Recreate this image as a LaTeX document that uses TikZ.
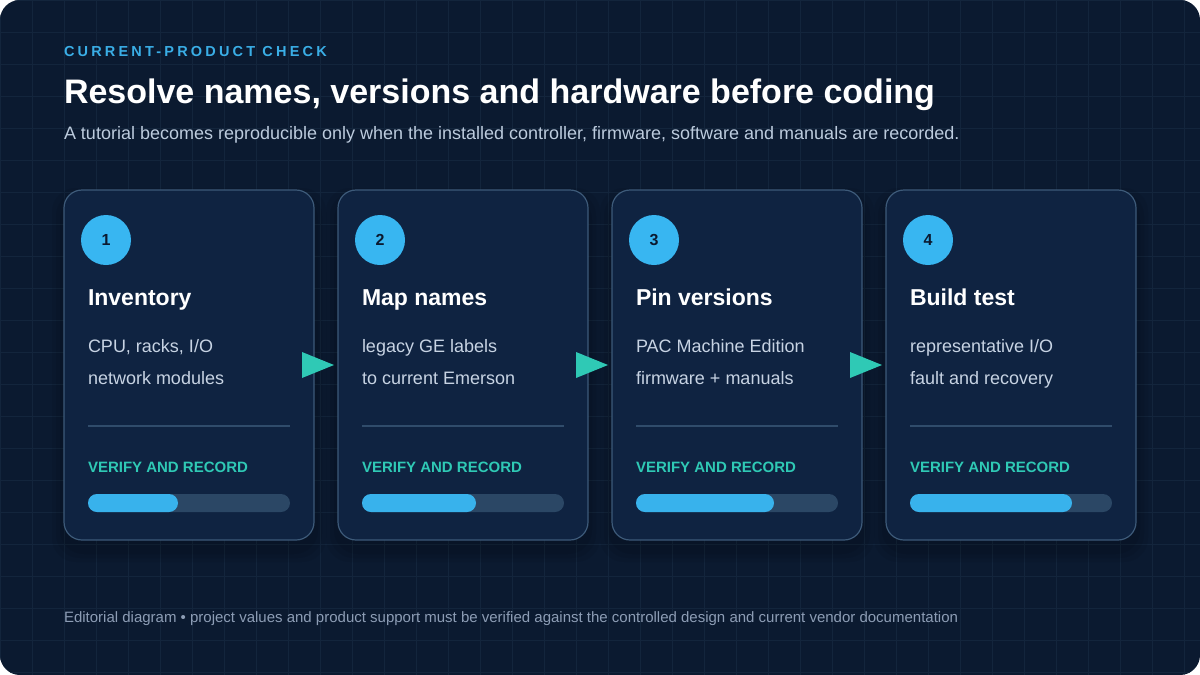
\documentclass[tikz,border=0pt]{standalone}
\usepackage{fontspec}
\setmainfont{Liberation Sans}
\usetikzlibrary{positioning,calc}
\definecolor{bgnavy}{HTML}{0B1A30}
\definecolor{gridline}{HTML}{13253C}
\definecolor{cardfill}{HTML}{0F2341}
\definecolor{cardedge}{HTML}{3D5A79}
\definecolor{badge}{HTML}{38B6F1}
\definecolor{bodytext}{HTML}{C7D3E3}
\definecolor{rulecol}{HTML}{304C6B}
\definecolor{checkteal}{HTML}{2FC9B5}
\definecolor{track}{HTML}{2B4765}
\definecolor{barfill}{HTML}{38B2EC}
\definecolor{kicker}{HTML}{3AAEE6}
\definecolor{subtext}{HTML}{BCCBDD}
\definecolor{foottext}{HTML}{8D9DB5}

\begin{document}
\begin{tikzpicture}[x=1pt, y=-1pt, every node/.style={inner sep=0pt, outer sep=0pt}]
  \tikzset{
      card/.style={draw=cardedge, line width=1.2pt, fill=cardfill, rounded corners=18pt, minimum width=250pt, minimum height=350pt},
      glow/.style={fill=black, opacity=0.06, rounded corners=24pt},
      numdot/.style={circle, fill=badge, minimum size=50pt, text=bgnavy, font=\fontsize{16}{19}\selectfont\bfseries},
      cardtitle/.style={anchor=base west, text=white, font=\fontsize{23}{27}\selectfont\bfseries},
      cardline/.style={anchor=base west, text=bodytext, font=\fontsize{18}{21}\selectfont},
      checklabel/.style={anchor=base west, text=checkteal, font=\fontsize{15}{18}\selectfont\bfseries},
      bartrack/.style={fill=track, rounded corners=9pt},
      barlevel/.style={fill=barfill, rounded corners=9pt}
  }
  \useasboundingbox (0,0) rectangle (1200,675);
  \fill[white] (0,0) rectangle (1200,675);
  \fill[bgnavy, rounded corners=20pt] (0,0) rectangle (1200,675);
  \begin{scope}
      \clip[rounded corners=20pt] (0,0) rectangle (1200,675);
      \draw[gridline, line width=0.8pt, step=32pt] (0,0) grid (1200,675);
  \end{scope}

  % header
  \node[anchor=base west, text=kicker, font=\fontsize{14.5}{17}\selectfont\bfseries\addfontfeatures{LetterSpace=22}] (kick) at (64,56) {CURRENT-PRODUCT CHECK};
  \node[anchor=base west, text=white, font=\fontsize{34}{40}\selectfont\bfseries] (head) at (64,103) {Resolve names, versions and hardware before coding};
  \node[anchor=base west, text=subtext, font=\fontsize{18}{21}\selectfont] (sub) at (64,139) {A tutorial becomes reproducible only when the installed controller, firmware, software and manuals are recorded.};

  % soft shadows under the cards
  \foreach \dx in {0,274,548,822}
    \foreach \g in {4,8,12}
      \fill[glow] (64+\dx-\g,190-\g+10) rectangle (314+\dx+\g,540+\g+10);

  % card 1
  \begin{scope}[xshift=0pt]
      \node[card] (c1) at (189,365) {};
      \node[numdot] (n1) at (106,240) {1};
      \node[cardtitle] (t1) at (88,305) {Inventory};
      \node[cardline] (a1) at (88,352) {CPU, racks, I/O};
      \node[cardline] (b1) at (88,384) {network modules};
      \draw[rulecol, line width=1.2pt] (88,426) -- (290,426);
      \node[checklabel] (v1) at (88,472) {VERIFY AND RECORD};
      \fill[bartrack] (88,494) rectangle (290,512);
      \fill[barlevel] (88,494) rectangle (178,512);
  \end{scope}

  % card 2
  \begin{scope}[xshift=274pt]
      \node[card] (c2) at (189,365) {};
      \node[numdot] (n2) at (106,240) {2};
      \node[cardtitle] (t2) at (88,305) {Map names};
      \node[cardline] (a2) at (88,352) {legacy GE labels};
      \node[cardline] (b2) at (88,384) {to current Emerson};
      \draw[rulecol, line width=1.2pt] (88,426) -- (290,426);
      \node[checklabel] (v2) at (88,472) {VERIFY AND RECORD};
      \fill[bartrack] (88,494) rectangle (290,512);
      \fill[barlevel] (88,494) rectangle (202,512);
  \end{scope}

  % card 3
  \begin{scope}[xshift=548pt]
      \node[card] (c3) at (189,365) {};
      \node[numdot] (n3) at (106,240) {3};
      \node[cardtitle] (t3) at (88,305) {Pin versions};
      \node[cardline] (a3) at (88,352) {PAC Machine Edition};
      \node[cardline] (b3) at (88,384) {firmware + manuals};
      \draw[rulecol, line width=1.2pt] (88,426) -- (290,426);
      \node[checklabel] (v3) at (88,472) {VERIFY AND RECORD};
      \fill[bartrack] (88,494) rectangle (290,512);
      \fill[barlevel] (88,494) rectangle (226,512);
  \end{scope}

  % card 4
  \begin{scope}[xshift=822pt]
      \node[card] (c4) at (189,365) {};
      \node[numdot] (n4) at (106,240) {4};
      \node[cardtitle] (t4) at (88,305) {Build test};
      \node[cardline] (a4) at (88,352) {representative I/O};
      \node[cardline] (b4) at (88,384) {fault and recovery};
      \draw[rulecol, line width=1.2pt] (88,426) -- (290,426);
      \node[checklabel] (v4) at (88,472) {VERIFY AND RECORD};
      \fill[bartrack] (88,494) rectangle (290,512);
      \fill[barlevel] (88,494) rectangle (250,512);
  \end{scope}

  % step arrows
  \fill[checkteal] ($(c1.east)+(-12,-13)$) -- ($(c1.east)+(20,0)$) -- ($(c1.east)+(-12,13)$) -- cycle;
  \fill[checkteal] ($(c2.east)+(-12,-13)$) -- ($(c2.east)+(20,0)$) -- ($(c2.east)+(-12,13)$) -- cycle;
  \fill[checkteal] ($(c3.east)+(-12,-13)$) -- ($(c3.east)+(20,0)$) -- ($(c3.east)+(-12,13)$) -- cycle;

  % footer
  \node[anchor=base west, text=foottext, font=\fontsize{15}{18}\selectfont] (foot) at (64,622) {Editorial diagram • project values and product support must be verified against the controlled design and current vendor documentation};
\end{tikzpicture}
\end{document}
